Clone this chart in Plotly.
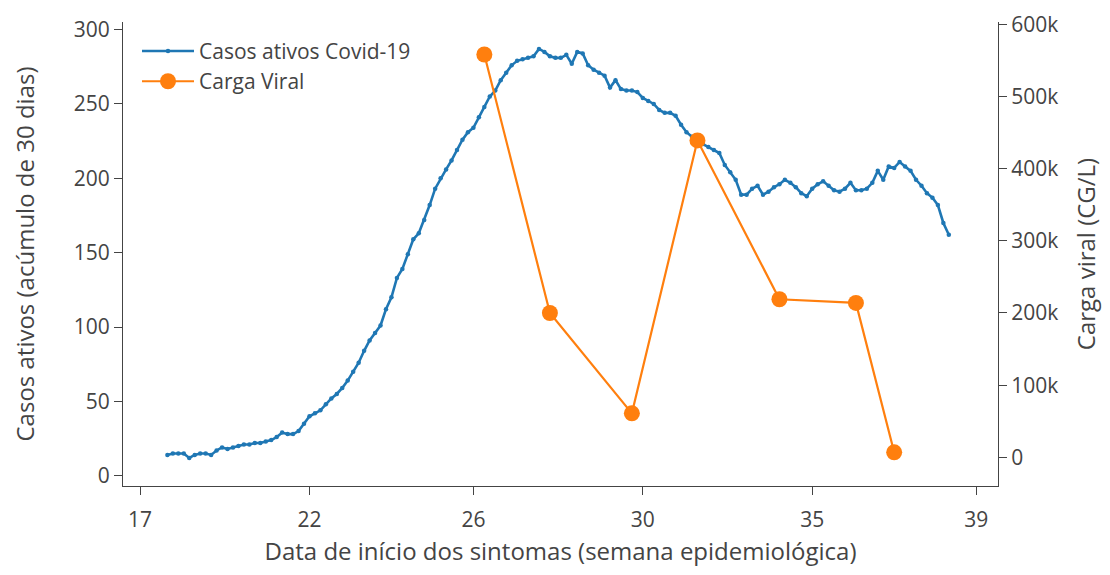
import pandas as pd
import plotly.graph_objects as go

# Casos ativos Covid-19 (acúmulo de 30 dias), daily from 2020-05-06
casos_inicio = "2020-05-06"
casos = [14, 15, 15, 15, 12, 14, 15, 15, 14, 17,
         19, 18, 19, 20, 21, 21, 22, 22, 23, 24,
         26, 29, 28, 28, 30, 35, 40, 42, 44, 48,
         52, 55, 59, 64, 70, 76, 84, 91, 96, 101,
         112, 120, 133, 139, 149, 159, 163, 172, 182, 193,
         200, 206, 212, 219, 226, 231, 234, 241, 248, 255,
         259, 266, 271, 276, 279, 280, 281, 282, 287, 285,
         282, 281, 281, 283, 277, 285, 284, 276, 273, 271,
         269, 261, 266, 260, 259, 259, 258, 254, 252, 250,
         246, 244, 244, 242, 236, 231, 228, 225, 223, 221,
         219, 217, 209, 204, 199, 189, 189, 193, 195, 189,
         191, 194, 196, 199, 197, 194, 190, 188, 193, 196,
         198, 195, 192, 191, 193, 197, 192, 192, 193, 197,
         205, 199, 208, 207, 211, 208, 205, 199, 195, 190,
         187, 182, 170, 162]
casos_datas = pd.date_range(casos_inicio, periods=len(casos), freq="D")

# Carga viral (CG/L)
carga_datas = ["2020-07-03", "2020-07-15", "2020-07-30", "2020-08-11",
               "2020-08-26", "2020-09-09", "2020-09-16"]
carga = [558000, 200000, 61000, 439000, 219000, 214000, 7000]

# Tick labels (semana epidemiológica) at month starts
tick_datas = ["2020-05-01", "2020-06-01", "2020-07-01", "2020-08-01",
              "2020-09-01", "2020-10-01"]
tick_semanas = ["17", "22", "26", "30", "35", "39"]

FONT = "Open Sans"
GREY = "#444"

fig = go.Figure()
fig.add_trace(go.Scatter(
    x=casos_datas, y=casos, name="Casos ativos Covid-19",
    mode="lines+markers", legendgroup="casos",
    line=dict(color="#1f77b4", width=2.6),
    marker=dict(color="#1f77b4", size=4.5),
    yaxis="y",
))
fig.add_trace(go.Scatter(
    x=carga_datas, y=carga, name="Carga Viral",
    mode="lines+markers", legendgroup="carga",
    line=dict(color="#ff7f0e", width=2.2),
    marker=dict(color="#ff7f0e", size=16),
    yaxis="y2",
))

axis_common = dict(
    showline=True, linecolor=GREY, linewidth=1.2,
    ticks="outside", ticklen=8, tickcolor=GREY,
    showgrid=False, zeroline=False, automargin=False,
    tickfont=dict(family=FONT, size=21, color=GREY),
)

fig.update_layout(
    width=1094, height=559,
    margin=dict(l=115, r=104, t=14, b=81),
    paper_bgcolor="white", plot_bgcolor="white",
    font=dict(family=FONT, color=GREY),
    xaxis=dict(
        **axis_common,
        type="date",
        range=["2020-04-27 21:00", "2020-10-05 00:00"],
        tickvals=tick_datas, ticktext=tick_semanas,
        ticklabelstandoff=7,
        title=dict(text="Data de início dos sintomas (semana epidemiológica)",
                   font=dict(family=FONT, size=24, color=GREY), standoff=19),
    ),
    yaxis=dict(
        **axis_common,
        range=[-6.9, 305.1],
        tickvals=[0, 50, 100, 150, 200, 250, 300],
        title=dict(text="Casos ativos (acúmulo de 30 dias)",
                   font=dict(family=FONT, size=24, color=GREY), standoff=35),
    ),
    yaxis2=dict(
        **axis_common,
        overlaying="y", side="right",
        range=[-39600, 603000],
        tickvals=[0, 100000, 200000, 300000, 400000, 500000, 600000],
        ticktext=["0", "100k", "200k", "300k", "400k", "500k", "600k"],
        title=dict(text="Carga viral (CG/L)",
                   font=dict(family=FONT, size=24, color=GREY), standoff=28),
    ),
    legend=dict(
        x=0.016, y=0.981, xanchor="left", yanchor="top",
        bgcolor="rgba(0,0,0,0)",
        itemwidth=52,
        traceorder="grouped", tracegroupgap=0,
        font=dict(family=FONT, size=21, color=GREY),
    ),
    showlegend=True,
)

fig.write_html("out.html")
